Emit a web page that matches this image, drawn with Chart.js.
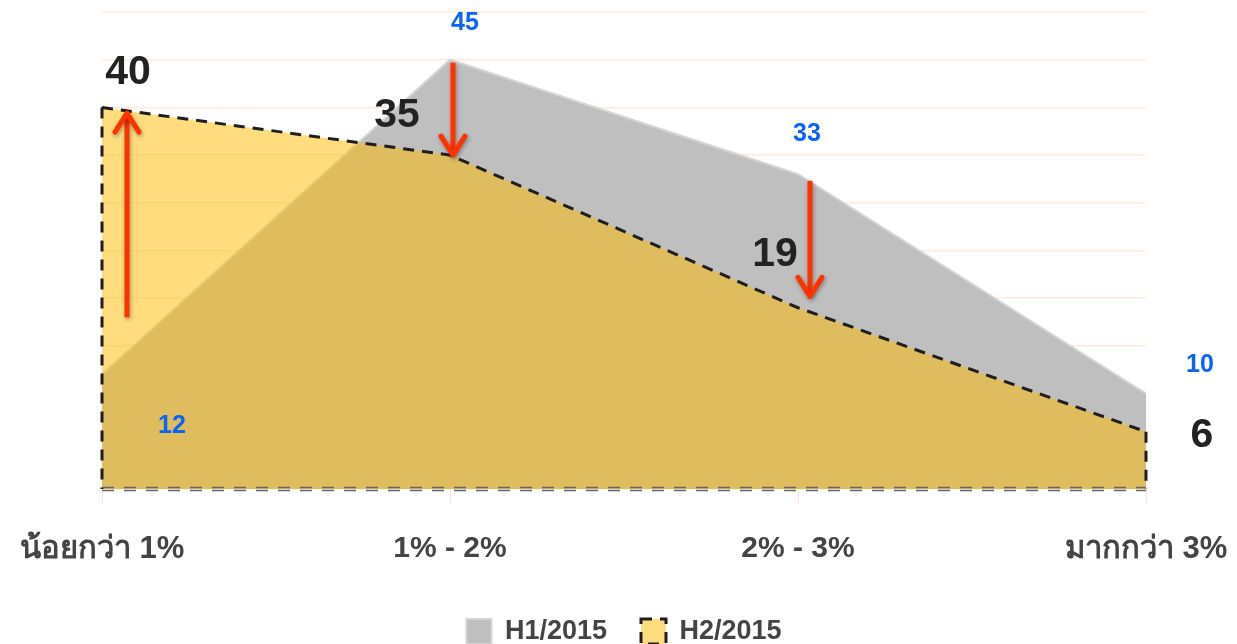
<!DOCTYPE html>
<html><head><meta charset="utf-8">
<script src="https://cdn.jsdelivr.net/npm/chart.js@4/dist/chart.umd.min.js"></script>
<style>html,body{margin:0;padding:0;background:#fff;}#wrap{width:1237px;height:644px;}</style>
</head><body><div id="wrap"><canvas id="c" width="1237" height="644"></canvas></div>
<script>
const categories = ['น้อยกว่า 1%', '1% - 2%', '2% - 3%', 'มากกว่า 3%'];
const seriesNames = ['H1/2015', 'H2/2015'];
const h1Values = [12, 45, 33, 10];
const h2Values = [40, 35, 19, 6];
const yMin = 0, yMax = 50, yStep = 5;
// change arrows (in data units)
const arrowCategory = [0, 1, 2];
const arrowFrom = [18, 44.7, 32.3];
const arrowTo = [39.4, 35, 20.2];

// styling config (pixel offsets)
const arrowDx = [25, 3, 12];
const h1LabelOffset = [[70, 52], [15, -37], [9, -40], [54, -28]];
const h2LabelOffset = [[26, -35], [-53, -39], [-23, -53], [56, 4]];

const FONT = "'Liberation Sans', Arial, 'Noto Sans', 'DejaVu Sans', sans-serif";

const overlay = {
  id: 'overlay',
  afterDatasetsDraw(chart) {
    const ctx = chart.ctx;
    const x = chart.scales.x, y = chart.scales.y;
    const y0 = y.getPixelForValue(0);
    const n = categories.length;
    ctx.save();
    // yellow area outline sides
    ctx.setLineDash([11, 8]);
    ctx.strokeStyle = '#1e1e1e';
    ctx.lineWidth = 3;
    ctx.beginPath();
    ctx.moveTo(x.getPixelForValue(0), y.getPixelForValue(h2Values[0]));
    ctx.lineTo(x.getPixelForValue(0), y0);
    ctx.moveTo(x.getPixelForValue(n - 1), y.getPixelForValue(h2Values[n - 1]));
    ctx.lineTo(x.getPixelForValue(n - 1), y0);
    ctx.stroke();
    // baseline double dash
    ctx.setLineDash([12, 10]);
    ctx.strokeStyle = '#666';
    ctx.lineWidth = 1.5;
    ctx.beginPath();
    ctx.moveTo(x.getPixelForValue(0), y0 - 1.5);
    ctx.lineTo(x.getPixelForValue(n - 1), y0 - 1.5);
    ctx.moveTo(x.getPixelForValue(0), y0 + 1.5);
    ctx.lineTo(x.getPixelForValue(n - 1), y0 + 1.5);
    ctx.stroke();
    ctx.setLineDash([]);
    // arrows
    ctx.strokeStyle = '#ff3300';
    ctx.lineWidth = 5;
    ctx.lineCap = 'butt';
    ctx.shadowColor = 'rgba(0,0,0,0.35)';
    ctx.shadowBlur = 4;
    ctx.shadowOffsetX = 1;
    ctx.shadowOffsetY = 2;
    arrowCategory.forEach((c, i) => {
      const ax = x.getPixelForValue(c) + arrowDx[i];
      const ya = y.getPixelForValue(arrowFrom[i]);
      const yb = y.getPixelForValue(arrowTo[i]);
      const dir = yb < ya ? -1 : 1;
      ctx.beginPath();
      ctx.moveTo(ax, ya);
      ctx.lineTo(ax, yb - dir * 2);
      ctx.stroke();
      ctx.beginPath();
      ctx.lineJoin = 'round';
      ctx.lineCap = 'round';
      ctx.moveTo(ax - 12, yb - dir * 19);
      ctx.lineTo(ax, yb);
      ctx.lineTo(ax + 12, yb - dir * 19);
      ctx.stroke();
      ctx.lineCap = 'butt';
    });
    ctx.shadowColor = 'transparent';
    // labels
    ctx.textAlign = 'center';
    ctx.textBaseline = 'middle';
    ctx.font = 'bold 25px ' + FONT;
    ctx.fillStyle = '#0a64f5';
    h1Values.forEach((v, i) => {
      ctx.fillText(String(v), x.getPixelForValue(i) + h1LabelOffset[i][0], y.getPixelForValue(v) + h1LabelOffset[i][1]);
    });
    ctx.font = 'bold 41px ' + FONT;
    ctx.fillStyle = '#222';
    h2Values.forEach((v, i) => {
      ctx.fillText(String(v), x.getPixelForValue(i) + h2LabelOffset[i][0], y.getPixelForValue(v) + h2LabelOffset[i][1]);
    });
    ctx.restore();
  }
};

new Chart(document.getElementById('c'), {
  type: 'line',
  data: {
    labels: categories,
    datasets: [
      {
        label: seriesNames[0],
        data: h1Values,
        fill: 'origin',
        backgroundColor: '#bfbfbf',
        borderColor: '#d4d4d4',
        borderWidth: 2,
        pointRadius: 0,
        tension: 0,
        order: 1
      },
      {
        label: seriesNames[1],
        data: h2Values,
        fill: 'origin',
        backgroundColor: 'rgba(255,187,0,0.5)',
        borderColor: '#1e1e1e',
        borderWidth: 3,
        borderDash: [11, 8],
        pointRadius: 0,
        tension: 0,
        order: 0
      }
    ]
  },
  options: {
    responsive: false,
    animation: false,
    devicePixelRatio: 1,
    layout: { padding: { left: 102, right: 91, top: 12, bottom: -11 } },
    plugins: {
      tooltip: { enabled: false },
      legend: {
        position: 'bottom',
        labels: {
          boxWidth: 25,
          boxHeight: 25,
          padding: 34,
          color: '#444',
          font: { family: FONT, size: 27, weight: 'bold' },
          sort: (a, b) => a.datasetIndex - b.datasetIndex
        }
      }
    },
    scales: {
      x: {
        offset: false,
        border: { display: false },
        grid: { drawOnChartArea: false, drawTicks: true, tickLength: 14, color: '#fde6cf' },
        ticks: {
          padding: 28, color: '#444', maxRotation: 0, autoSkip: false,
          font: (c) => ({ family: FONT, weight: 'bold', size: /[\u0E00-\u0E7F]/.test(categories[c.index] || '') ? 31 : 30 })
        },
        afterFit: (s) => { s.height = 95; s.paddingLeft = 0; s.paddingRight = 0; }
      },
      y: {
        min: yMin, max: yMax,
        border: { display: false },
        grid: { color: '#fdebd9', drawTicks: false, lineWidth: 1.5 },
        ticks: { display: false, stepSize: yStep }
      }
    }
  },
  plugins: [overlay]
});
</script>
</body></html>
